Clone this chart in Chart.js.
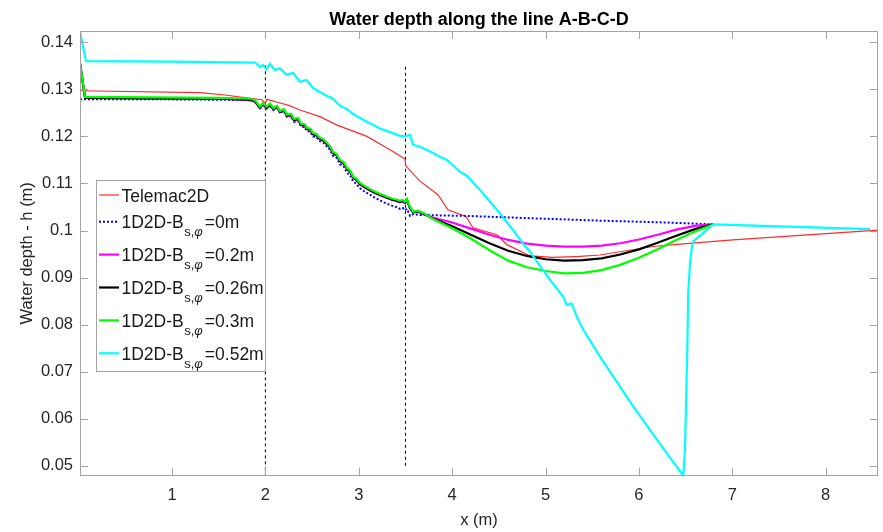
<!DOCTYPE html>
<html lang="en">
<head>
<meta charset="UTF-8">
<title>Water depth along the line A-B-C-D</title>
<script src="https://cdn.jsdelivr.net/npm/chart.js@4.4.0/dist/chart.umd.min.js"></script>
<style>
    html, body { margin: 0; padding: 0; background: #fff; }
    canvas { display: block; }
</style>
</head>
<body>
<canvas id="chart" width="883" height="532"></canvas>
<script>
    var FONT = "'Liberation Sans', Arial, Helvetica, sans-serif";
    var chartTitle = 'Water depth along the line A-B-C-D';

    // axis limits and tick labels
    var xMin = 0.015, xMax = 8.56;
    var yMin = 0.0479, yMax = 0.1424;
    var xTicks = [1, 2, 3, 4, 5, 6, 7, 8];
    var yTicks = [0.05, 0.06, 0.07, 0.08, 0.09, 0.1, 0.11, 0.12, 0.13, 0.14];

    // Telemac2D
    var redX = [0.015, 1.30, 1.567, 1.835, 1.964, 1.996, 2.017, 2.049, 2.156, 2.25, 2.370, 2.584, 2.767, 3.088, 3.227, 3.367, 3.495, 3.505, 3.655, 3.848, 3.955, 4.148, 4.223, 4.480, 4.587, 4.834, 5.080, 5.369, 5.583, 6.150, 6.440, 7.007, 8.56];
    var redY = [0.1297, 0.1293, 0.1288, 0.1281, 0.1278, 0.1269, 0.1279, 0.1277, 0.1271, 0.1266, 0.1256, 0.1242, 0.1224, 0.1200, 0.1184, 0.1168, 0.1152, 0.1137, 0.1105, 0.1076, 0.1044, 0.1030, 0.1006, 0.0991, 0.0970, 0.0946, 0.0943, 0.0945, 0.0948, 0.0966, 0.0971, 0.0980, 0.1001];

    // Bs,phi = 0m
    var blueX = [0.015, 0.8, 1.5, 1.835, 1.889, 1.942, 1.974, 2.014, 2.049, 2.085, 2.124, 2.157, 2.199, 2.232, 2.274, 2.307, 2.350, 2.382, 2.420, 2.446, 2.480, 2.510, 2.545, 2.585, 2.620, 2.660, 2.690, 2.724, 2.760, 2.799, 2.840, 2.874, 2.910, 2.938, 2.975, 3.013, 3.060, 3.120, 3.170, 3.227, 3.290, 3.355, 3.400, 3.442, 3.470, 3.495, 3.516, 3.549, 3.584, 3.656, 4.159, 4.865, 5.583, 6.301, 6.796];
    var blueY = [0.1279, 0.1279, 0.1278, 0.1277, 0.1274, 0.1259, 0.1267, 0.1259, 0.1266, 0.1256, 0.1261, 0.1250, 0.1254, 0.1241, 0.1243, 0.1231, 0.1233, 0.1221, 0.1220, 0.1211, 0.1210, 0.1200, 0.1198, 0.1190, 0.1187, 0.1178, 0.1172, 0.1159, 0.1155, 0.1141, 0.1136, 0.1123, 0.1117, 0.1105, 0.1099, 0.1090, 0.1083, 0.1076, 0.1070, 0.1064, 0.1058, 0.1053, 0.1050, 0.1046, 0.1048, 0.1043, 0.1046, 0.1031, 0.1035, 0.1033, 0.1031, 0.1026, 0.1021, 0.1017, 0.1013];

    // shared x for the three sediment runs
    var runX = [0.015, 0.069, 0.8, 1.5, 1.835, 1.889, 1.942, 1.974, 2.014, 2.049, 2.085, 2.124, 2.157, 2.199, 2.232, 2.274, 2.307, 2.350, 2.382, 2.420, 2.446, 2.480, 2.510, 2.545, 2.585, 2.620, 2.660, 2.690, 2.724, 2.760, 2.799, 2.840, 2.874, 2.910, 2.938, 2.975, 3.013, 3.060, 3.120, 3.170, 3.227, 3.290, 3.355, 3.400, 3.442, 3.470, 3.495, 3.516, 3.549, 3.584, 3.634, 3.700, 3.8, 4.0, 4.2, 4.4, 4.6, 4.8, 5.0, 5.2, 5.4, 5.6, 5.8, 6.0, 6.2, 6.4, 6.6, 6.796];
    // Bs,phi = 0.2m
    var magentaY = [0.1355, 0.1282, 0.1281, 0.1280, 0.1277, 0.1274, 0.1260, 0.1268, 0.1260, 0.1267, 0.1257, 0.1262, 0.1251, 0.1255, 0.1243, 0.1245, 0.1234, 0.1236, 0.1224, 0.1223, 0.1215, 0.1214, 0.1204, 0.1202, 0.1194, 0.1191, 0.1183, 0.1177, 0.1164, 0.1160, 0.1147, 0.1142, 0.1130, 0.1124, 0.1112, 0.1107, 0.1098, 0.1092, 0.1085, 0.1080, 0.1075, 0.1070, 0.1065, 0.1063, 0.1060, 0.1062, 0.1058, 0.1064, 0.1047, 0.1038, 0.1040, 0.1034, 0.1027, 0.1017, 0.1004, 0.0991, 0.0980, 0.0972, 0.0968, 0.0966, 0.0966, 0.0968, 0.0973, 0.0981, 0.0991, 0.1002, 0.1010, 0.1013];
    // Bs,phi = 0.26m
    var blackY = [0.1355, 0.1282, 0.1281, 0.1280, 0.1278, 0.1275, 0.1261, 0.1269, 0.1261, 0.1268, 0.1258, 0.1263, 0.1252, 0.1256, 0.1244, 0.1246, 0.1235, 0.1237, 0.1225, 0.1224, 0.1216, 0.1215, 0.1205, 0.1203, 0.1195, 0.1192, 0.1184, 0.1178, 0.1165, 0.1161, 0.1148, 0.1143, 0.1131, 0.1125, 0.1113, 0.1108, 0.1099, 0.1093, 0.1086, 0.1081, 0.1076, 0.1071, 0.1066, 0.1064, 0.1061, 0.1063, 0.1059, 0.1065, 0.1048, 0.1039, 0.1041, 0.1035, 0.1025, 0.1009, 0.0991, 0.0973, 0.0957, 0.0946, 0.0939, 0.0936, 0.0937, 0.0941, 0.0949, 0.0960, 0.0974, 0.0989, 0.1003, 0.1013];
    // Bs,phi = 0.3m
    var greenY = [0.1355, 0.1284, 0.1283, 0.1282, 0.1280, 0.1277, 0.1263, 0.1271, 0.1263, 0.1270, 0.1260, 0.1265, 0.1254, 0.1258, 0.1246, 0.1248, 0.1237, 0.1239, 0.1227, 0.1226, 0.1218, 0.1217, 0.1207, 0.1205, 0.1197, 0.1194, 0.1186, 0.1180, 0.1167, 0.1163, 0.1150, 0.1145, 0.1133, 0.1127, 0.1115, 0.1110, 0.1101, 0.1095, 0.1088, 0.1083, 0.1078, 0.1073, 0.1068, 0.1066, 0.1063, 0.1065, 0.1061, 0.1067, 0.1050, 0.1040, 0.1042, 0.1036, 0.1024, 0.1005, 0.0983, 0.0958, 0.0936, 0.0922, 0.0914, 0.0909, 0.0910, 0.0916, 0.0927, 0.0942, 0.0960, 0.0980, 0.0998, 0.1013];

    // Bs,phi = 0.52m
    var cyanX = [0.015, 0.079, 1.0, 1.889, 1.942, 1.974, 2.012, 2.049, 2.103, 2.156, 2.226, 2.296, 2.371, 2.440, 2.510, 2.585, 2.660, 2.724, 2.799, 2.874, 2.938, 3.013, 3.088, 3.227, 3.367, 3.442, 3.495, 3.549, 3.581, 3.656, 3.763, 3.870, 3.945, 4.084, 4.159, 4.298, 4.405, 4.480, 4.651, 4.758, 4.833, 4.973, 5.048, 5.190, 5.226, 5.280, 5.334, 5.404, 5.583, 5.940, 6.297, 6.475, 6.493, 6.518, 6.528, 6.547, 6.568, 6.582, 6.796, 8.474];
    var cyanY = [0.1424, 0.1360, 0.1359, 0.1357, 0.1348, 0.1352, 0.1343, 0.1354, 0.1341, 0.1345, 0.1331, 0.1335, 0.1316, 0.1320, 0.1303, 0.1294, 0.1286, 0.1280, 0.1265, 0.1258, 0.1248, 0.1239, 0.1231, 0.1217, 0.1207, 0.1201, 0.1200, 0.1203, 0.1182, 0.1178, 0.1168, 0.1157, 0.1150, 0.1125, 0.1116, 0.1086, 0.1061, 0.1044, 0.1001, 0.0973, 0.0955, 0.0916, 0.0895, 0.0859, 0.0842, 0.0845, 0.0817, 0.0789, 0.0732, 0.0626, 0.0527, 0.0479, 0.0534, 0.0746, 0.0867, 0.0931, 0.0966, 0.0977, 0.1013, 0.1003];

    // section markers B and C
    var markBX = [2, 2], markBY = [0.1351, 0.0479];
    var markCX = [3.5, 3.5], markCY = [0.1348, 0.0498];

    function pts(xs, ys) {
        return xs.map(function (x, i) { return { x: x, y: ys[i] }; });
    }

    function line(label, xs, ys, color, width, order, dash) {
        return {
            label: label,
            data: pts(xs, ys),
            borderColor: color,
            backgroundColor: color,
            borderWidth: width,
            borderDash: dash || [],
            pointRadius: 0,
            fill: false,
            tension: 0,
            order: order
        };
    }

    var datasets = [
        line('Telemac2D', redX, redY, '#ff2a2a', 1.2, 5),
        line('1D2D-B_{s,φ}=0m', blueX, blueY, '#0000ff', 2, 4, [2, 2]),
        line('1D2D-B_{s,φ}=0.2m', runX, magentaY, '#ff00ff', 2.2, 3),
        line('1D2D-B_{s,φ}=0.26m', runX, blackY, '#000000', 2.2, 2),
        line('1D2D-B_{s,φ}=0.3m', runX, greenY, '#00ff00', 2.2, 1),
        line('1D2D-B_{s,φ}=0.52m', cyanX, cyanY, '#00ffff', 2.2, 0),
        line('', markBX, markBY, '#000000', 1, 6, [3, 3]),
        line('', markCX, markCY, '#000000', 1, 6, [3, 3])
    ];
    var legendItems = [0, 1, 2, 3, 4, 5];

    // MATLAB style box with inward ticks, title centred on the axes
    var framePlugin = {
        id: 'frame',
        afterDatasetsDraw: function (chart) {
            var a = chart.chartArea, ctx = chart.ctx;
            var xs = chart.scales.x, ys = chart.scales.y;
            ctx.save();
            ctx.strokeStyle = '#a3a3a3';
            ctx.lineWidth = 1;
            ctx.strokeRect(Math.round(a.left) + 0.5, Math.round(a.top) + 0.5,
                Math.round(a.right - a.left) - 1, Math.round(a.bottom - a.top) - 1);
            ctx.beginPath();
            xs.ticks.forEach(function (t) {
                var p = Math.round(xs.getPixelForValue(t.value)) + 0.5;
                ctx.moveTo(p, a.bottom); ctx.lineTo(p, a.bottom - 8);
                ctx.moveTo(p, a.top); ctx.lineTo(p, a.top + 8);
            });
            ys.ticks.forEach(function (t) {
                var p = Math.round(ys.getPixelForValue(t.value)) + 0.5;
                ctx.moveTo(a.left, p); ctx.lineTo(a.left + 8, p);
                ctx.moveTo(a.right, p); ctx.lineTo(a.right - 8, p);
            });
            ctx.stroke();

            ctx.fillStyle = '#000';
            ctx.font = 'bold 18px ' + FONT;
            ctx.textAlign = 'center';
            ctx.textBaseline = 'alphabetic';
            ctx.fillText(chartTitle, (a.left + a.right) / 2, 25);
            ctx.restore();
        }
    };

    function drawLabel(ctx, text, x, y) {
        var m = text.match(/^(.*?)_\{(.*?)\}(.*)$/);
        ctx.font = '17.5px ' + FONT;
        if (!m) { ctx.fillText(text, x, y); return; }
        ctx.fillText(m[1], x, y);
        x += ctx.measureText(m[1]).width + 0.5;
        Array.from(m[2]).forEach(function (ch) {
            ctx.font = (ch === 'φ' ? 'italic ' : '') + '13px ' + FONT;
            ctx.fillText(ch, x, y + 8);
            x += ctx.measureText(ch).width;
        });
        ctx.font = '17.5px ' + FONT;
        ctx.fillText(m[3], x + 2, y);
    }

    // legend with subscripts, drawn on top of the lines
    var legendPlugin = {
        id: 'subLegend',
        afterDraw: function (chart) {
            var ctx = chart.ctx;
            var rows = [195, 221.7, 254.6, 287.5, 320.4, 353.3];
            ctx.save();
            ctx.fillStyle = '#fff';
            ctx.fillRect(96.5, 180.5, 169, 191);
            ctx.strokeStyle = '#a3a3a3';
            ctx.lineWidth = 1;
            ctx.strokeRect(96.5, 180.5, 169, 191);
            legendItems.forEach(function (idx, i) {
                var ds = chart.data.datasets[idx];
                var y = rows[i];
                ctx.beginPath();
                ctx.strokeStyle = ds.borderColor;
                ctx.lineWidth = ds.borderWidth;
                ctx.setLineDash(ds.borderDash);
                ctx.moveTo(99, y);
                ctx.lineTo(119, y);
                ctx.stroke();
                ctx.setLineDash([]);
                ctx.fillStyle = '#1a1a1a';
                ctx.textAlign = 'left';
                ctx.textBaseline = 'alphabetic';
                drawLabel(ctx, ds.label, 121.5, y + 6.5);
            });
            ctx.restore();
        }
    };

    var context = document.getElementById('chart');
    var chart = new Chart(context, {
        type: 'line',
        data: { datasets: datasets },
        options: {
            responsive: false,
            devicePixelRatio: 1,
            animation: false,
            layout: { padding: { left: 0, right: 5, top: 31, bottom: 0 } },
            plugins: {
                legend: { display: false },
                tooltip: { enabled: false },
                title: { display: false }
            },
            scales: {
                x: {
                    type: 'linear',
                    min: xMin,
                    max: xMax,
                    grid: { display: false, drawTicks: false },
                    border: { display: false },
                    afterBuildTicks: function (s) { s.ticks = xTicks.map(function (v) { return { value: v }; }); },
                    afterFit: function (s) { s.height = 56.3; },
                    ticks: {
                        color: '#262626',
                        padding: 9.4,
                        maxRotation: 0,
                        font: { family: FONT, size: 16.5 },
                        callback: function (v) { return String(v); }
                    },
                    title: {
                        display: true,
                        text: 'x (m)',
                        color: '#262626',
                        font: { family: FONT, size: 16.5 },
                        padding: { top: 0, bottom: 2.1 }
                    }
                },
                y: {
                    type: 'linear',
                    min: yMin,
                    max: yMax,
                    grid: { display: false, drawTicks: false },
                    border: { display: false },
                    afterBuildTicks: function (s) { s.ticks = yTicks.map(function (v) { return { value: v }; }); },
                    afterFit: function (s) { s.width = 80; },
                    ticks: {
                        color: '#262626',
                        padding: 7,
                        font: { family: FONT, size: 16.5 },
                        callback: function (v) { return String(Number(v.toFixed(2))); }
                    },
                    title: {
                        display: true,
                        text: 'Water depth - h (m)',
                        color: '#262626',
                        font: { family: FONT, size: 16.5 },
                        padding: { top: 18, bottom: 0 }
                    }
                }
            }
        },
        plugins: [framePlugin, legendPlugin]
    });
</script>
</body>
</html>
